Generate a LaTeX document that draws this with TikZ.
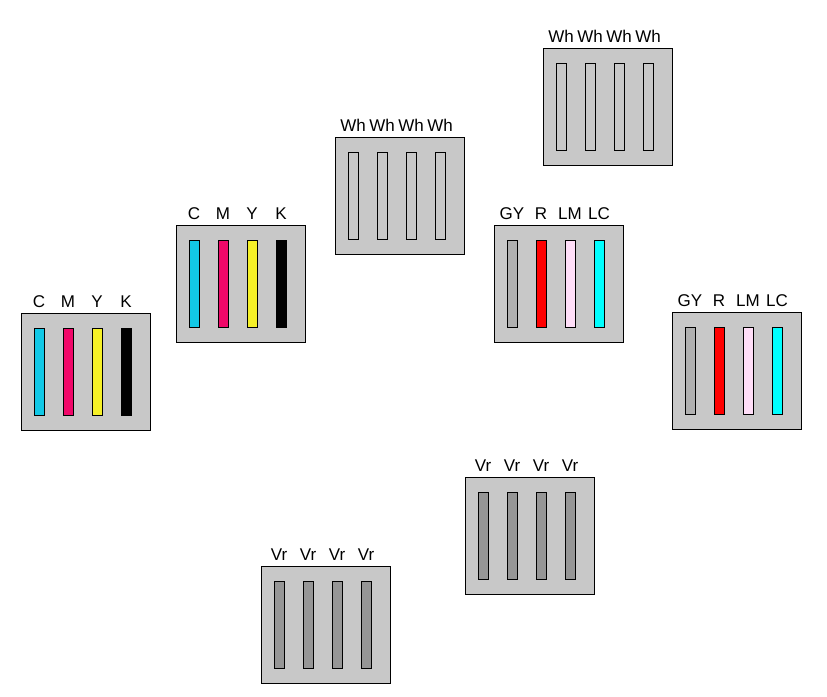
\documentclass[tikz,border=0pt]{standalone}
\usepackage{fontspec}
\setmainfont{Liberation Sans}
\definecolor{headgray}{RGB}{200,200,200}
\definecolor{inkC}{RGB}{18,200,230}
\definecolor{inkM}{RGB}{240,8,105}
\definecolor{inkY}{RGB}{245,240,40}
\definecolor{inkK}{RGB}{0,0,0}
\definecolor{inkGY}{RGB}{176,176,176}
\definecolor{inkR}{RGB}{255,0,0}
\definecolor{inkLM}{RGB}{255,222,248}
\definecolor{inkLC}{RGB}{0,255,255}
\definecolor{inkVr}{RGB}{150,150,150}
\tikzset{
headbox/.style={draw=black,fill=headgray,line width=1pt,minimum width=129pt,minimum height=117pt,inner sep=0pt,anchor=north west},
channel/.style={draw=black,line width=1pt,minimum width=10pt,minimum height=87pt,inner sep=0pt,anchor=north},
chlabel/.style={font=\fontsize{17}{19}\selectfont,anchor=base,inner sep=0pt}
}
\begin{document}
\begin{tikzpicture}[x=1pt,y=-1pt]
\useasboundingbox (0,0) rectangle (827,696);
% one print head: name, left, top, label/colour list
\def\head#1#2#3#4{
\begin{scope}[shift={(#2,#3)}]
\node[headbox] (#1) at (0,0) {};
\foreach \lab/\col [count=\i from 0] in {#4}{
\node[channel,fill=\col] (#1-\i) at (18+29*\i,15) {};
\node[chlabel] (#1-l\i) at (18+29*\i,-6) {\lab};
}
\end{scope}
}
\head{cmykA}{21}{313}{C/inkC,M/inkM,Y/inkY,K/inkK}
\head{cmykB}{176}{225}{C/inkC,M/inkM,Y/inkY,K/inkK}
\head{whA}{335}{137}{Wh/headgray,Wh/headgray,Wh/headgray,Wh/headgray}
\head{whB}{543}{48}{Wh/headgray,Wh/headgray,Wh/headgray,Wh/headgray}
\head{spotA}{494}{225}{GY/inkGY,R/inkR,LM/inkLM,LC/inkLC}
\head{spotB}{672}{312}{GY/inkGY,R/inkR,LM/inkLM,LC/inkLC}
\head{vrA}{465}{477}{Vr/inkVr,Vr/inkVr,Vr/inkVr,Vr/inkVr}
\head{vrB}{261}{566}{Vr/inkVr,Vr/inkVr,Vr/inkVr,Vr/inkVr}
\end{tikzpicture}
\end{document}
